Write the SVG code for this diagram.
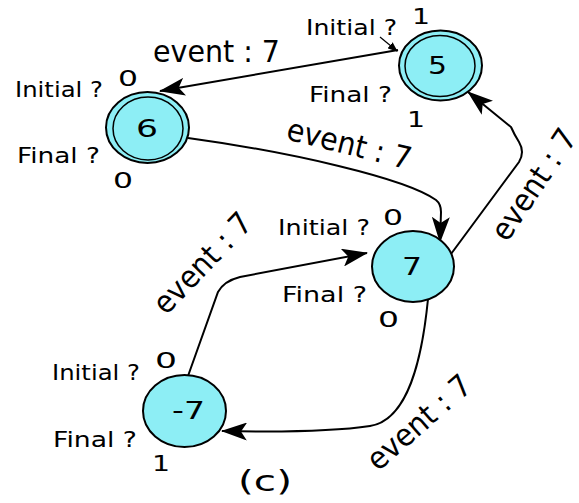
<svg xmlns="http://www.w3.org/2000/svg" width="579" height="503" viewBox="0 0 579 503">
<defs>
<marker id="ah" markerWidth="26" markerHeight="18" refX="25" refY="9" orient="auto" markerUnits="userSpaceOnUse">
<path d="M0,0 L26,9 L0,18 L6,9 Z" fill="#000"/>
</marker>
<marker id="ahs" markerWidth="10" markerHeight="8" refX="9" refY="4" orient="auto" markerUnits="userSpaceOnUse">
<path d="M0,0 L10,4 L0,8 Z" fill="#000"/>
</marker>
</defs>
<style>
.st{fill:#8deef5;stroke:#000;stroke-width:2}
.in{fill:none;stroke:#000;stroke-width:1.5}
.e{fill:none;stroke:#000;stroke-width:2;marker-end:url(#ah)}
.t{font-family:"DejaVu Sans",sans-serif;font-size:22px;fill:#000}
.d{font-family:"DejaVu Sans",sans-serif;font-size:22px;fill:#000}
.n{font-family:"DejaVu Sans",sans-serif;font-size:24px;fill:#000}
.ev{font-family:"DejaVu Sans Condensed","DejaVu Sans",sans-serif;font-size:31px;fill:#000}
</style>
<rect width="579" height="503" fill="#fff"/>
<g id="connectors">
<path class="e" d="M398,50 L160,91"/>
<path class="e" d="M188,138 C290,152 405,178 436,200 Q441,204 441,212 L440,242"/>
<path class="e" d="M451,254 L519,162 Q525,152 519,142 Q514,134 511,127 L468,92"/>
<path class="e" d="M188,376 L218,292 Q224,281 240,277 L367,253"/>
<path class="e" d="M428,299 C422,360 408,420 370,426 C330,432 270,432 222,431"/>
<path d="M380,37 L397,51" fill="none" stroke="#000" stroke-width="1.2" marker-end="url(#ahs)"/>
<text class="ev" x="153" y="62" textLength="127" lengthAdjust="spacingAndGlyphs">event : 7</text>
<text class="ev" x="285" y="139" textLength="127" lengthAdjust="spacingAndGlyphs" transform="rotate(14 285 139)">event : 7</text>
<text class="ev" x="507" y="243" textLength="127" lengthAdjust="spacingAndGlyphs" transform="rotate(-56 507 243)">event : 7</text>
<text class="ev" x="166" y="316" textLength="127" lengthAdjust="spacingAndGlyphs" transform="rotate(-46 166 316)">event : 7</text>
<text class="ev" x="378" y="472" textLength="127" lengthAdjust="spacingAndGlyphs" transform="rotate(-41 378 472)">event : 7</text>
</g>
<g id="node5">
<ellipse class="st" cx="440.5" cy="65.5" rx="41.5" ry="35"/>
<ellipse class="in" cx="440" cy="66" rx="35" ry="30.5"/>
<text class="n" x="428" y="74" textLength="19" lengthAdjust="spacingAndGlyphs">5</text>
<text class="t" x="306" y="35" textLength="91" lengthAdjust="spacingAndGlyphs">Initial ?</text>
<text class="t" x="309" y="102" textLength="83" lengthAdjust="spacingAndGlyphs">Final ?</text>
<text class="d" x="412" y="24" textLength="18" lengthAdjust="spacingAndGlyphs">1</text>
<text class="d" x="407" y="127" textLength="18" lengthAdjust="spacingAndGlyphs">1</text>
</g>
<g id="node6">
<ellipse class="st" cx="147.5" cy="127.5" rx="41.5" ry="35.5"/>
<ellipse class="in" cx="148" cy="128.5" rx="35" ry="31.5"/>
<text class="n" x="136" y="137" textLength="22" lengthAdjust="spacingAndGlyphs">6</text>
<text class="t" x="15" y="97" textLength="88" lengthAdjust="spacingAndGlyphs">Initial ?</text>
<text class="t" x="17" y="163" textLength="83" lengthAdjust="spacingAndGlyphs">Final ?</text>
<text class="d" x="118" y="86" textLength="20" lengthAdjust="spacingAndGlyphs">0</text>
<text class="d" x="113" y="188" textLength="20" lengthAdjust="spacingAndGlyphs">0</text>
</g>
<g id="node7">
<ellipse class="st" cx="413" cy="266.5" rx="41" ry="35.5"/>
<text class="n" x="402" y="275" textLength="20" lengthAdjust="spacingAndGlyphs">7</text>
<text class="t" x="278" y="235" textLength="92" lengthAdjust="spacingAndGlyphs">Initial ?</text>
<text class="t" x="282" y="302" textLength="85" lengthAdjust="spacingAndGlyphs">Final ?</text>
<text class="d" x="383" y="225" textLength="20" lengthAdjust="spacingAndGlyphs">0</text>
<text class="d" x="378" y="327" textLength="21" lengthAdjust="spacingAndGlyphs">0</text>
</g>
<g id="nodem7">
<ellipse class="st" cx="184.5" cy="411" rx="41.5" ry="36"/>
<text class="n" x="172" y="419" textLength="33" lengthAdjust="spacingAndGlyphs">-7</text>
<text class="t" x="52" y="380" textLength="88" lengthAdjust="spacingAndGlyphs">Initial ?</text>
<text class="t" x="53" y="447" textLength="84" lengthAdjust="spacingAndGlyphs">Final ?</text>
<text class="d" x="155" y="368" textLength="22" lengthAdjust="spacingAndGlyphs">0</text>
<text class="d" x="152" y="471" textLength="18" lengthAdjust="spacingAndGlyphs">1</text>
</g>
<text x="238" y="491" font-family="DejaVu Sans, sans-serif" font-size="28" textLength="54" lengthAdjust="spacingAndGlyphs">(c)</text>
</svg>
